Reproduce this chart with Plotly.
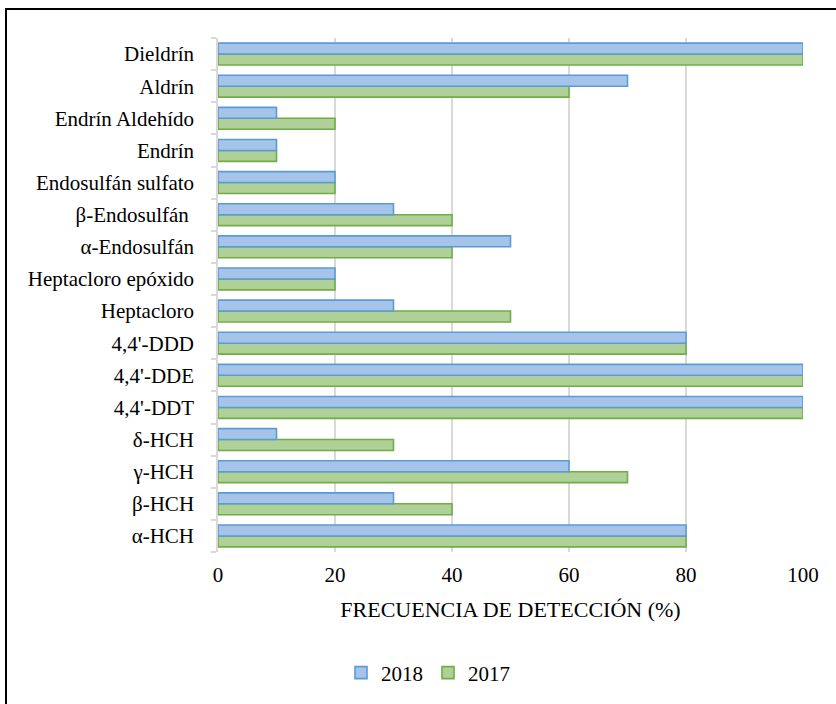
import plotly.graph_objects as go

# Organochlorine pesticides, listed bottom-to-top as drawn on the category axis
compuestos = [
    "α-HCH", "β-HCH", "γ-HCH", "δ-HCH", "4,4'-DDT", "4,4'-DDE", "4,4'-DDD",
    "Heptacloro", "Heptacloro epóxido", "α-Endosulfán", "β-Endosulfán ",
    "Endosulfán sulfato", "Endrín", "Endrín Aldehído", "Aldrín", "Dieldrín",
]
frecuencia_2018 = [80, 30, 60, 10, 100, 100, 80, 30, 20, 50, 30, 20, 10, 10, 70, 100]
frecuencia_2017 = [80, 40, 70, 30, 100, 100, 80, 50, 20, 40, 40, 20, 10, 20, 60, 100]

x_ticks = [0, 20, 40, 60, 80, 100]

FONT = "Liberation Serif"

fig = go.Figure()
# 2017 is added first so it sits below 2018 inside each category group
fig.add_trace(go.Bar(
    name="2017", y=compuestos, x=frecuencia_2017, orientation="h",
    marker=dict(color="#afd197", line=dict(color="#70ad47", width=1.6)),
))
fig.add_trace(go.Bar(
    name="2018", y=compuestos, x=frecuencia_2018, orientation="h",
    marker=dict(color="#a6c3ea", line=dict(color="#5b9bd5", width=1.6)),
))

W, H = 836, 704
L, R, T, B = 218, 33, 38, 151
pw, ph = W - L - R, H - T - B

def px_x(p):
    return (p - L) / pw

def px_y(p):
    return (H - B - p) / ph

tick_font = dict(family=FONT, size=21, color="black")

fig.update_layout(
    width=W, height=H,
    margin=dict(l=L, r=R, t=T, b=B),
    paper_bgcolor="white", plot_bgcolor="white",
    barmode="group", bargap=0.32, bargroupgap=0,
    font=dict(family=FONT, size=21, color="black"),
    showlegend=True,
    legend=dict(
        orientation="h", traceorder="reversed",
        x=px_x(428), y=px_y(673), xanchor="center", yanchor="middle",
        font=tick_font,
        itemwidth=30, itemclick=False,
    ),
    xaxis=dict(
        range=[0, 100], tickvals=x_ticks, ticktext=[str(v) for v in x_ticks],
        tickfont=tick_font,
        showgrid=True, gridcolor="#d9d9d9", gridwidth=1.5,
        zeroline=False, showline=False, ticks="",
        ticklabelstandoff=8,
        title=dict(text="FRECUENCIA DE DETECCIÓN (%)", standoff=15,
                   font=dict(family=FONT, size=22, color="black")),
        fixedrange=True,
    ),
    yaxis=dict(
        tickfont=tick_font,
        showline=True, linecolor="#d9d9d9", linewidth=1.5,
        ticks="outside", tickson="boundaries", ticklen=5,
        tickcolor="#d9d9d9", tickwidth=1.5,
        ticklabelstandoff=18,
        showgrid=False, fixedrange=True,
    ),
    shapes=[dict(
        type="rect", xref="paper", yref="paper",
        x0=px_x(6), x1=px_x(850), y0=px_y(720), y1=px_y(9),
        line=dict(color="black", width=2), fillcolor="rgba(0,0,0,0)",
        layer="below",
    )],
)

fig.write_html("out.html")
